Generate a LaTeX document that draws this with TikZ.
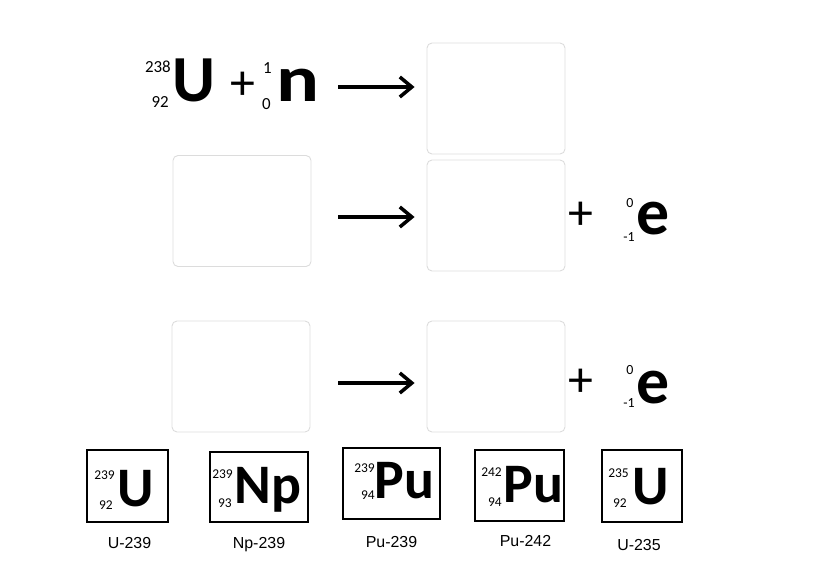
\documentclass[tikz,border=0pt]{standalone}
\usepackage{fontspec}
\setmainfont{Liberation Sans}
\newfontfamily\calib{Carlito}
\newfontfamily\calibwide[FakeStretch=1.22]{Carlito}
\usetikzlibrary{arrows.meta,positioning}
\definecolor{boxgray}{RGB}{220,220,220}

\begin{document}
\begin{tikzpicture}[
    x=1bp, y=-1bp,
    blank/.style={draw=boxgray, line width=0.9bp, rounded corners=5bp, minimum width=138bp, minimum height=111bp},
    tile/.style={draw, line width=1.7bp, inner sep=0pt},
    bigsym/.style={font=\calib\bfseries\fontsize{66}{66}\selectfont, inner sep=0pt, anchor=base west},
    tilesym/.style={font=\calib\bfseries\fontsize{56}{56}\selectfont, inner sep=0pt, anchor=base west},
    num/.style={font=\calib\fontsize{17}{17}\selectfont, inner sep=0pt},
    enum/.style={font=\calib\fontsize{14}{14}\selectfont, inner sep=0pt},
    smallnum/.style={font=\calib\fontsize{13.5}{13.5}\selectfont, inner sep=0pt, anchor=east},
    plus/.style={font=\calib\fontsize{50}{50}\selectfont, inner sep=0pt},
    tag/.style={font=\fontsize{16}{16}\selectfont, inner sep=0pt},
    react/.style={line width=3.5bp, -{Straight Barb[length=12bp,width=20bp]}, shorten >=12bp}
]
\useasboundingbox (0,0) rectangle (825,576);

% empty answer boxes
\node[blank] (b1) at (496,98.5) {};
\node[blank] (a2) at (242,211) {};
\node[blank] (b2) at (496,215.5) {};
\node[blank] (a3) at (241,376.5) {};
\node[blank] (b3) at (496,376.5) {};

% U-238 + n
\node[bigsym] (u238) at (172,102) {U};
\node[num, anchor=east] (u238a) at (171,67) {238};
\node[num, anchor=east] (u238z) at (169,102) {92};
\node[plus] (p1) at (243,86) {+};
\node[num, anchor=east] (na) at (272,68) {1};
\node[num, anchor=east] (nz) at (271,104) {0};
\node[bigsym, font=\calibwide\bfseries\fontsize{66}{66}\selectfont] (n) at (276,102) {n};

% beta decays
\node[plus] (p2) at (581,216) {+};
\node[enum] (e2a) at (630,203) {0};
\node[enum, anchor=east] (e2z) at (635,237) {-1};
\node[bigsym] (e2) at (636,235) {e};
\node[plus] (p3) at (581,383) {+};
\node[enum] (e3a) at (630,370) {0};
\node[enum, anchor=east] (e3z) at (635,403) {-1};
\node[bigsym] (e3) at (636,403) {e};

% reaction arrows
\coordinate (r1) at (338,87);
\coordinate (r2) at (338,217);
\coordinate (r3) at (338,383);
\draw[react] (r1) -- (r1 -| b1.west);
\draw[react] (r2) -- (r2 -| b2.west);
\draw[react] (r3) -- (r3 -| b3.west);

% nuclide tiles
\node[tile, minimum width=81bp, minimum height=72bp] (t1) at (127.5,486) {};
\node[tile, minimum width=98bp, minimum height=70bp] (t2) at (259,487) {};
\node[tile, minimum width=97bp, minimum height=71bp] (t3) at (391.5,483.5) {};
\node[tile, minimum width=89bp, minimum height=71bp] (t4) at (519.5,485.5) {};
\node[tile, minimum width=80bp, minimum height=72bp] (t5) at (642,486) {};

\node[tilesym] (s1) at (117.5,506) {U};
\node[smallnum] at (115,475) {239};
\node[smallnum] at (113,505) {92};
\node[tilesym] (s2) at (234.5,503) {Np};
\node[smallnum] at (233,474) {239};
\node[smallnum] at (232,503) {93};
\node[tilesym] (s3) at (374.5,498) {Pu};
\node[smallnum] at (375,468) {239};
\node[smallnum] at (375,495) {94};
\node[tilesym] (s4) at (503.5,502) {Pu};
\node[smallnum] at (502,472) {242};
\node[smallnum] at (502,502) {94};
\node[tilesym] (s5) at (632.5,504) {U};
\node[smallnum] at (629,473) {235};
\node[smallnum] at (627,503) {92};

% names
\node[tag, below=14bp of t1, xshift=2bp] (l1) {U-239};
\node[tag, below=14bp of t2] (l2) {Np-239};
\node[tag, below=16bp of t3] (l3) {Pu-239};
\node[tag, below=13bp of t4, xshift=6bp] (l4) {Pu-242};
\node[tag, below=16bp of t5, xshift=-3bp] (l5) {U-235};
\end{tikzpicture}
\end{document}
